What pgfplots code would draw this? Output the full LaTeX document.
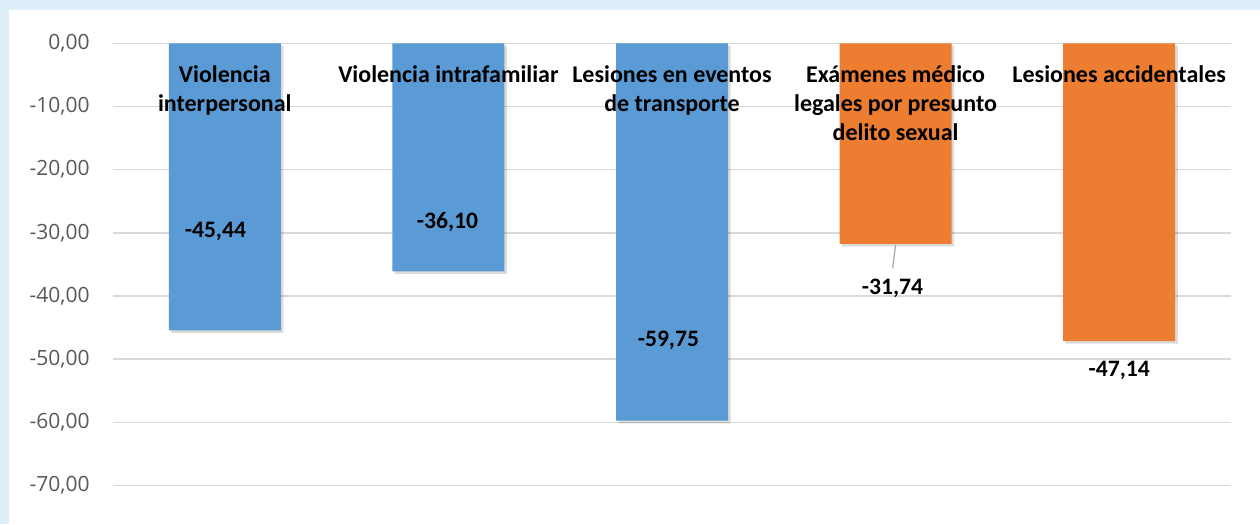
\documentclass[border=0pt]{standalone}
\usepackage{pgfplots}
\pgfplotsset{compat=1.18}
\usepackage{fontspec}
\setmainfont{Carlito}
\newfontfamily\ticksfont{Open Sans}
\definecolor{bgblue}{HTML}{DEEFF9}
\definecolor{barblue}{HTML}{5B9BD5}
\definecolor{barorange}{HTML}{ED7D31}
\definecolor{gridgray}{HTML}{D9D9D9}
\definecolor{tickgray}{HTML}{595959}
\definecolor{leadergray}{HTML}{A6A6A6}
\begin{document}
\begin{tikzpicture}[x=1pt,y=1pt]
\begin{axis}[
  set layers=standard,
  at={(56.5pt,0pt)}, anchor=south west,
  scale only axis, width=559pt, height=240.35pt,
  xmin=-0.5, xmax=4.5, ymin=-76.1, ymax=0,
  axis line style={draw=none},
  major tick length=0pt,
  ymajorgrids, grid style={gridgray, line width=0.75pt},
  ytick={-70,-60,-50,-40,-30,-20,-10,0},
  yticklabel style={font=\ticksfont\fontsize{10.5}{12}\selectfont, text=tickgray, inner sep=0pt, xshift=-11.5pt},
  /pgf/number format/.cd, fixed, fixed zerofill, precision=2, use comma, 1000 sep={}, assume math mode=true,
  /pgfplots/.cd,
  xtick={0,1,2,3,4},
  xticklabels={{Violencia\\interpersonal}, {Violencia intrafamiliar}, {Lesiones en eventos\\de transporte}, {Exámenes médico\\legales por presunto\\delito sexual}, {Lesiones accidentales}},
  xticklabel pos=upper,
  xticklabel style={/pgfplots/on layer=axis foreground, anchor=north, align=center, inner sep=0pt, font=\bfseries\fontsize{12}{14.5}\selectfont, text=black, yshift=-11pt},
  clip=false,
  ybar, bar width=56pt,
]
\begin{pgfonlayer}{axis background}
\fill[bgblue] (rel axis cs:-0.10107,0) rectangle (rel axis cs:1.02594,1.09008);
\fill[white] (rel axis cs:-0.09302,0) rectangle (rel axis cs:1.02594,1.06927);
\end{pgfonlayer}
% soft shadows
\addplot[fill=black, fill opacity=0.14, draw=none, bar shift=1.3pt, yshift=-1.3pt] coordinates {(0,-45.44) (1,-36.10) (2,-59.75) (3,-31.74) (4,-47.14)};
\addplot[fill=barblue, draw=none, bar shift=0pt] coordinates {(0,-45.44) (1,-36.10) (2,-59.75)};
\addplot[fill=barorange, draw=none, bar shift=0pt] coordinates {(3,-31.74) (4,-47.14)};
\draw[leadergray, line width=0.6pt] (axis cs:3.0,-31.9) -- (axis cs:2.987,-35.6);
\begin{scope}[every node/.style={font=\bfseries\fontsize{11.8}{13}\selectfont, text=black, inner sep=0pt}]
\node at (axis cs:-0.042,-29.73) {-45,44};
\node at (axis cs:0.996,-28.30) {-36,10};
\node at (axis cs:1.984,-47.0) {-59,75};
\node at (axis cs:2.986,-38.83) {-31,74};
\node at (axis cs:4.0,-51.74) {-47,14};
\end{scope}
\end{axis}
\end{tikzpicture}
\end{document}
